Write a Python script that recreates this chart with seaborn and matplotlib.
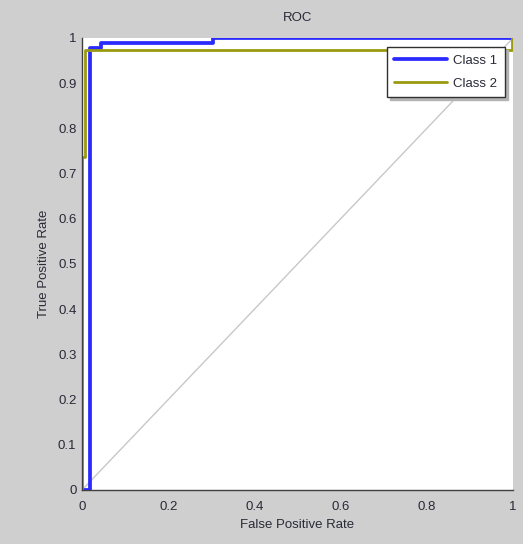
import numpy as np
import pandas as pd
import matplotlib
matplotlib.use("Agg")
import matplotlib.pyplot as plt
import seaborn as sns

# Data
class1_fpr = [0.0, 0.018, 0.018, 0.045, 0.045, 0.305, 0.305, 1.0]
class1_tpr = [0.0, 0.0, 0.978, 0.978, 0.989, 0.989, 1.0, 1.0]
class2_fpr = [0.0, 0.0, 0.007, 0.007, 0.998, 0.998]
class2_tpr = [0.0, 0.737, 0.737, 0.974, 0.974, 1.0]
diag_x = [0.0, 1.0]
diag_y = [0.0, 1.0]
series_names = ["Class 1", "Class 2"]
series_colors = ["#2a2aff", "#9a9a10"]
x_ticks = [0, 0.2, 0.4, 0.6, 0.8, 1]
x_tick_labels = ["0", "0.2", "0.4", "0.6", "0.8", "1"]
y_ticks = [0, 0.1, 0.2, 0.3, 0.4, 0.5, 0.6, 0.7, 0.8, 0.9, 1]
y_tick_labels = ["0", "0.1", "0.2", "0.3", "0.4", "0.5", "0.6", "0.7", "0.8", "0.9", "1"]

df = pd.concat([
    pd.DataFrame({"fpr": class1_fpr, "tpr": class1_tpr, "cls": series_names[0], "ord": range(len(class1_fpr))}),
    pd.DataFrame({"fpr": class2_fpr, "tpr": class2_tpr, "cls": series_names[1], "ord": range(len(class2_fpr))}),
])

sns.set_style("white")
plt.rcParams["font.family"] = ["Liberation Sans", "DejaVu Sans"]
text_color = "#2a2a38"

fig = plt.figure(figsize=(5.23, 5.44), dpi=100, facecolor="#cfcfcf")
ax = fig.add_axes([0.1568, 0.0993, 0.8242, 0.8309])
ax.set_facecolor("white")

sns.lineplot(x=diag_x, y=diag_y, ax=ax, color="#c8c8c8", linewidth=1.0, legend=False)
for name, col, lw in zip(series_names, series_colors, [2.7, 2.0]):
    sub = df[df["cls"] == name]
    sns.lineplot(data=sub, x="fpr", y="tpr", ax=ax, color=col, linewidth=lw,
                 sort=False, estimator=None, label=name)

ax.set_xlim(0, 1)
ax.set_ylim(0, 1)
ax.set_xticks(x_ticks)
ax.set_xticklabels(x_tick_labels)
ax.set_yticks(y_ticks)
ax.set_yticklabels(y_tick_labels)
ax.tick_params(direction="in", length=3, width=0.8, colors="#404040",
               labelcolor=text_color, labelsize=9.5)
ax.tick_params(axis="x", pad=8)
ax.tick_params(axis="y", pad=4)
for s in ["top", "right"]:
    ax.spines[s].set_visible(False)
for s in ["left", "bottom"]:
    ax.spines[s].set_color("#404040")
    ax.spines[s].set_linewidth(1.0)

ax.set_title("ROC", fontsize=9.5, color=text_color, pad=12)
ax.set_xlabel("False Positive Rate", fontsize=9.5, color=text_color, labelpad=4)
ax.set_ylabel("True Positive Rate", fontsize=9.5, color=text_color, labelpad=6)

leg = ax.legend(loc="upper right", bbox_to_anchor=(0.981, 0.98), frameon=True,
                fancybox=False, shadow={"color": "0.7", "alpha": 1.0}, fontsize=9.5,
                handlelength=4.0, borderpad=0.55, labelspacing=0.85,
                handletextpad=0.5, borderaxespad=0)
leg.get_frame().set_edgecolor("#303030")
leg.get_frame().set_linewidth(1.0)
for t in leg.get_texts():
    t.set_color(text_color)

fig.savefig("out.png", dpi=100, facecolor=fig.get_facecolor())
